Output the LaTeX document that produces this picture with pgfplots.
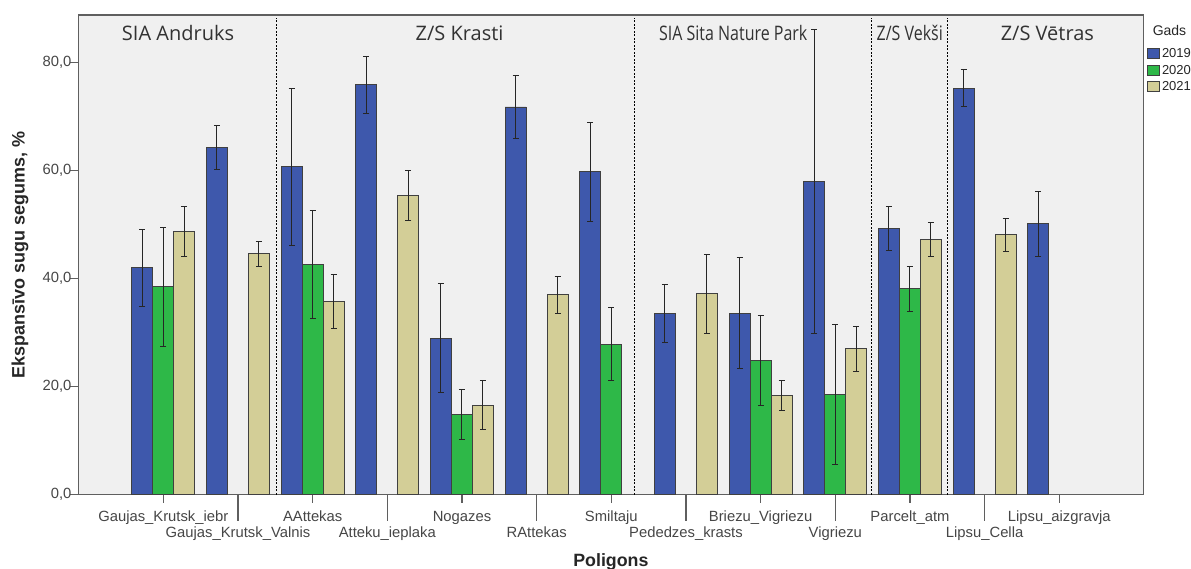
\documentclass[border=0pt]{standalone}
\usepackage{fontspec}
\setmainfont{Liberation Sans}
\newfontfamily\panelfont{Open Sans}
\usepackage{graphicx}
\usepackage{pgfplots}
\pgfplotsset{compat=1.18}
\definecolor{c19}{RGB}{62,88,172}
\definecolor{c20}{RGB}{46,184,72}
\definecolor{c21}{RGB}{211,206,151}
\definecolor{bgc}{RGB}{240,240,240}
\definecolor{tickc}{RGB}{70,70,70}
\definecolor{framec}{RGB}{95,95,95}
\definecolor{titc}{RGB}{50,50,50}
\begin{document}
\begin{tikzpicture}
\useasboundingbox (-78.5pt,-74.3pt) rectangle (1112.5pt,494.7pt);
\begin{axis}[
  at={(0,0)}, anchor=south west,
  scale only axis, width=1064.8pt, height=479.7pt,
  xmin=-1.136, xmax=13.125, ymin=0, ymax=88.83,
  axis background/.style={fill=bgc},
  axis line style={framec, line width=1.2pt},
  tick align=outside, xtick pos=bottom, ytick pos=left,
  major tick length=8pt,
  tick style={framec, line width=1.2pt},
  xtick={0,2,4,6,8,10,12},
  xticklabels={Gaujas\_Krutsk\_iebr, AAttekas, Nogazes, Smiltaju, Briezu\_Vigriezu, Parcelt\_atm, Lipsu\_aizgravja},
  extra x ticks={1,3,5,7,9,11},
  extra x tick labels={Gaujas\_Krutsk\_Valnis, Atteku\_ieplaka, RAttekas, Pededzes\_krasts, Vigriezu, Lipsu\_Cella},
  extra x tick style={major tick length=26pt, xticklabel style={yshift=2pt}},
  xticklabel style={font=\fontsize{14.8}{16}\selectfont, text=tickc, yshift=-5pt},
  ytick={0,20,40,60,80},
  yticklabel style={font=\fontsize{14.8}{16}\selectfont, text=tickc, xshift=4.5pt},
  /pgf/number format/.cd, fixed, fixed zerofill, precision=1, use comma, assume math mode=true,
  /pgfplots/.cd,
  xlabel={\bfseries Poligons},
  xlabel style={at={(axis description cs:0.5,0)}, anchor=center, yshift=-67pt, font=\fontsize{17.8}{20}\selectfont, text=black!85},
  ylabel={\bfseries Ekspansīvo sugu segums, \%},
  ylabel style={at={(axis description cs:-0.0549,0.5)}, anchor=center, font=\fontsize{18}{20}\selectfont, text=black!85},
  legend style={at={(rel axis cs:1.0035,0.935)}, anchor=north west, draw=none, fill=none, font=\fontsize{13}{14}\selectfont, inner sep=0pt, row sep=2pt, text=black!85},
  legend cell align=left,
  legend image code/.code={\draw[#1, draw=black!75, line width=0.8pt] (0pt,-5pt) rectangle (12pt,5pt);},
  clip=false,
]
% 2019
\addplot[ybar, bar shift=0pt, bar width=0.2814, fill=c19, draw=black!75, line width=0.9pt,
  error bars/.cd, y dir=both, y explicit,
  error bar style={black!85, line width=1pt},
  error mark options={rotate=90, mark size=3pt, black!85, line width=1pt}]
coordinates {
(-0.2814,42.0) +- (0,7.1)
(0.7186,64.3) +- (0,4.0)
(1.7186,60.7) +- (0,14.5)
(2.7186,75.9) +- (0,5.3)
(3.7186,29.0) +- (0,10.1)
(4.7186,71.8) +- (0,5.9)
(5.7186,59.8) +- (0,9.2)
(6.7186,33.5) +- (0,5.4)
(7.7186,33.6) +- (0,10.3)
(8.7186,58.0) +- (0,28.2)
(9.7186,49.3) +- (0,4.0)
(10.7186,75.3) +- (0,3.4)
(11.7186,50.2) +- (0,6.0)
};
\addlegendentry{2019}
% 2020
\addplot[ybar, bar shift=0pt, bar width=0.2814, fill=c20, draw=black!75, line width=0.9pt,
  error bars/.cd, y dir=both, y explicit,
  error bar style={black!85, line width=1pt},
  error mark options={rotate=90, mark size=3pt, black!85, line width=1pt}]
coordinates {
(0,38.5) +- (0,11.0)
(2,42.6) +- (0,10.0)
(4,14.9) +- (0,4.6)
(6,27.9) +- (0,6.7)
(8,24.8) +- (0,8.3)
(9,18.5) +- (0,13.0)
(10,38.1) +- (0,4.1)
};
\addlegendentry{2020}
% 2021
\addplot[ybar, bar shift=0pt, bar width=0.2814, fill=c21, draw=black!75, line width=0.9pt,
  error bars/.cd, y dir=both, y explicit,
  error bar style={black!85, line width=1pt},
  error mark options={rotate=90, mark size=3pt, black!85, line width=1pt}]
coordinates {
(0.2814,48.8) +- (0,4.6)
(1.2814,44.6) +- (0,2.3)
(2.2814,35.7) +- (0,5.0)
(3.2814,55.4) +- (0,4.7)
(4.2814,16.6) +- (0,4.5)
(5.2814,37.0) +- (0,3.4)
(7.2814,37.2) +- (0,7.3)
(8.2814,18.3) +- (0,2.8)
(9.2814,27.0) +- (0,4.2)
(10.2814,47.3) +- (0,3.1)
(11.2814,48.1) +- (0,3.0)
};
\addlegendentry{2021}
% panel dividers
\addplot[forget plot, black, line width=0.9pt, dash pattern=on 2pt off 1.5pt] coordinates {(1.519,0) (1.519,88.2)};
\addplot[forget plot, black, line width=0.9pt, dash pattern=on 2pt off 1.5pt] coordinates {(6.310,0) (6.310,88.2)};
\addplot[forget plot, black, line width=0.9pt, dash pattern=on 2pt off 1.5pt] coordinates {(9.488,0) (9.488,88.2)};
\addplot[forget plot, black, line width=0.9pt, dash pattern=on 2pt off 1.5pt] coordinates {(10.496,0) (10.496,88.2)};
% panel titles
\node[font=\panelfont\fontsize{20}{24}\selectfont, text=titc] at (axis cs:0.197,85.5) {SIA Andruks};
\node[font=\panelfont\fontsize{20}{24}\selectfont, text=titc] at (axis cs:3.968,85.5) {Z/S Krasti};
\node[font=\panelfont\fontsize{20}{24}\selectfont, text=titc] at (axis cs:7.633,85.5) {\scalebox{0.8}[1]{SIA Sita Nature Park}};
\node[font=\panelfont\fontsize{20}{24}\selectfont, text=titc] at (axis cs:9.997,85.5) {\scalebox{0.8}[1]{Z/S Vekši}};
\node[font=\panelfont\fontsize{20}{24}\selectfont, text=titc] at (axis cs:11.84,85.5) {Z/S Vētras};
\node[font=\fontsize{14}{16}\selectfont, text=black!85] at (rel axis cs:1.0246,0.9687) {Gads};
\end{axis}
\end{tikzpicture}
\end{document}
